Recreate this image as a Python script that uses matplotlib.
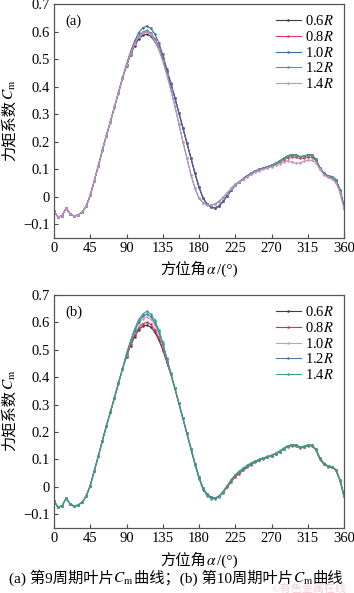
import numpy as np
import matplotlib.pyplot as plt

plt.rcParams['font.family'] = ['Liberation Serif', 'Noto Sans CJK SC']
plt.rcParams['mathtext.fontset'] = 'stix'
plt.rcParams['font.size'] = 10.5

# azimuth angle, degrees (5 deg sampling)
angle = np.arange(0, 361, 5)

# 0..85 deg, same for every radius
head = [-0.052, -0.074, -0.069, -0.042, -0.062, -0.071, -0.066, -0.056, -0.034,
        0.005, 0.058, 0.112, 0.168, 0.222, 0.272, 0.325, 0.378, 0.43]

# 90..145 deg, around the peak
peak_059 = [0.475, 0.515, 0.548, 0.572, 0.586, 0.59, 0.583, 0.565, 0.537, 0.50, 0.455, 0.41]
peak_060 = [0.478, 0.52, 0.555, 0.58, 0.595, 0.60, 0.593, 0.574, 0.545, 0.505, 0.458, 0.41]
peak_062 = [0.482, 0.527, 0.565, 0.595, 0.613, 0.62, 0.612, 0.592, 0.56, 0.517, 0.465, 0.413]
peak_063 = [0.484, 0.53, 0.57, 0.602, 0.622, 0.63, 0.622, 0.60, 0.567, 0.522, 0.468, 0.415]
peak_064 = [0.486, 0.534, 0.576, 0.61, 0.63, 0.64, 0.631, 0.609, 0.574, 0.527, 0.47, 0.416]
peak_12a = [0.479, 0.522, 0.557, 0.583, 0.598, 0.604, 0.595, 0.572, 0.54, 0.497, 0.447, 0.39]
peak_14a = [0.478, 0.52, 0.554, 0.58, 0.594, 0.599, 0.59, 0.567, 0.535, 0.492, 0.443, 0.387]

# 150..195 deg, falling side
fall_late = [0.36, 0.305, 0.25, 0.195, 0.14, 0.085, 0.035, -0.005, -0.027, -0.038]
fall_early = [0.33, 0.265, 0.2, 0.14, 0.08, 0.03, -0.005, -0.022, -0.03, -0.031]
fall_14b = [0.36, 0.305, 0.25, 0.193, 0.137, 0.08, 0.03, -0.01, -0.032, -0.043]

# 200..360 deg
tail_main = [-0.041, -0.034, -0.017, 0.003, 0.024, 0.042, 0.054, 0.066, 0.076, 0.085, 0.093,
             0.099, 0.104, 0.109, 0.114, 0.121, 0.129, 0.139, 0.148, 0.153, 0.151, 0.146,
             0.147, 0.152, 0.151, 0.137, 0.105, 0.085, 0.076, 0.073, 0.062, 0.025, -0.035]
tail_08a = [-0.04, -0.033, -0.016, 0.004, 0.025, 0.042, 0.054, 0.066, 0.076, 0.085, 0.093,
            0.099, 0.104, 0.109, 0.114, 0.12, 0.127, 0.135, 0.142, 0.145, 0.143, 0.139,
            0.14, 0.144, 0.143, 0.132, 0.102, 0.083, 0.072, 0.068, 0.057, 0.022, -0.038]
tail_12a = [-0.026, -0.016, -0.002, 0.014, 0.03, 0.045, 0.055, 0.065, 0.074, 0.084, 0.092,
            0.099, 0.104, 0.109, 0.114, 0.121, 0.129, 0.139, 0.147, 0.152, 0.15, 0.145,
            0.146, 0.151, 0.15, 0.136, 0.104, 0.084, 0.075, 0.072, 0.06, 0.022, -0.04]
tail_14a = [-0.028, -0.018, -0.003, 0.013, 0.029, 0.043, 0.053, 0.063, 0.072, 0.081, 0.089,
            0.095, 0.1, 0.104, 0.108, 0.114, 0.12, 0.126, 0.131, 0.127, 0.122, 0.123,
            0.128, 0.133, 0.132, 0.124, 0.1, 0.08, 0.07, 0.064, 0.05, 0.015, -0.045]
tail_08b = [-0.041, -0.036, -0.021, -0.002, 0.018, 0.036, 0.048, 0.06, 0.071, 0.081, 0.09,
            0.097, 0.103, 0.108, 0.113, 0.12, 0.128, 0.138, 0.146, 0.15, 0.148, 0.143,
            0.145, 0.15, 0.149, 0.135, 0.1, 0.082, 0.074, 0.071, 0.06, 0.022, -0.03]
tail_14b = [-0.044, -0.035, -0.017, 0.004, 0.026, 0.045, 0.057, 0.069, 0.079, 0.088, 0.095,
            0.101, 0.106, 0.111, 0.116, 0.123, 0.131, 0.141, 0.15, 0.154, 0.152, 0.147,
            0.148, 0.153, 0.152, 0.138, 0.106, 0.086, 0.077, 0.074, 0.063, 0.026, -0.03]

labels = ['0.6$R$', '0.8$R$', '1.0$R$', '1.2$R$', '1.4$R$']

cm_a = [head + peak_059 + fall_late + tail_main,
        head + peak_060 + fall_late + tail_08a,
        head + peak_062 + fall_late + tail_main,
        head + peak_12a + fall_early + tail_12a,
        head + peak_14a + fall_early + tail_14a]
cm_b = [head + peak_059 + fall_late + tail_main,
        head + peak_060 + fall_late + tail_08b,
        head + peak_062 + fall_late + tail_main,
        head + peak_063 + fall_late + tail_main,
        head + peak_064 + fall_14b + tail_14b]

colors_a = ['#3a3a48', '#d23f52', '#3b68a8', '#4a9e88', '#c690c0']
colors_b = ['#3a3a48', '#cf3446', '#c79bd0', '#4a7aa2', '#3aa27e']

fig = plt.figure(figsize=(3.54, 5.93), dpi=100)
W, H = 354, 593
renderer = fig.canvas.get_renderer()


def rich_text(xc, yc, pieces, size=11, rotation=0, color='black'):
    # mathtext can't fall back to the CJK font, so lay pieces side by side
    widths = []
    for s in pieces:
        t = fig.text(0, 0, s, fontsize=size)
        widths.append(t.get_window_extent(renderer).width)
        t.remove()
    total = sum(widths)
    pos = -total / 2
    for s, w in zip(pieces, widths):
        if rotation == 0:
            x, y = xc + pos, H - yc - size * 0.35
        else:
            x, y = xc + size * 0.35, H - yc + pos
        fig.text(x / W, y / H, s, fontsize=size, rotation=rotation,
                 rotation_mode='anchor', ha='left', va='baseline', color=color)
        pos += w


def make_panel(rect, data, colors, tag):
    ax = fig.add_axes(rect)
    for vals, c, lab in zip(data, colors, labels):
        ax.plot(angle, vals, color=c, lw=0.8, marker='o', ms=1.8, mew=0, label=lab)
    ax.set_xlim(0, 360)
    ax.set_ylim(-0.15, 0.7)
    ax.set_xticks(np.arange(0, 361, 45))
    ax.set_yticks(np.arange(-0.1, 0.71, 0.1))
    ax.set_yticklabels(['\u22120.1', '0', '0.1', '0.2', '0.3', '0.4', '0.5', '0.6', '0.7'])
    ax.tick_params(direction='in', length=3, width=0.8, color='#444444', pad=3, labelsize=10.5)
    for s in ax.spines.values():
        s.set_color('#555555')
        s.set_linewidth(0.9)
    ax.text(0.04, 0.955, tag, transform=ax.transAxes, ha='left', va='top', fontsize=10.5)
    ax.legend(loc='upper right', frameon=False, fontsize=10.5, handlelength=1.7,
              handletextpad=0.3, labelspacing=0.12, borderaxespad=0.3)
    return ax


ax1 = make_panel([54 / W, 1 - 238 / H, 290 / W, 234 / H], cm_a, colors_a, '(a)')
ax2 = make_panel([54 / W, 1 - 528 / H, 290 / W, 233 / H], cm_b, colors_b, '(b)')

for yc, yx in [(120, 270), (410, 561)]:
    rich_text(10, yc, ['力矩系数', '$C_\\mathrm{m}$'], size=11, rotation=90)
    rich_text(199, yx, ['方位角', '$\\alpha$', '/(°)'], size=11)

rich_text(176, 579, ['(a) 第9周期叶片', '$C_\\mathrm{m}$', '曲线；(b) 第10周期叶片',
                     '$C_\\mathrm{m}$', '曲线'], size=11)
fig.text(347 / W, 1 - 589 / H, '©有色金属在线', ha='right', va='center',
         fontsize=8, color='#f0b8c4', alpha=0.7)

fig.savefig('out.png', dpi=100)
